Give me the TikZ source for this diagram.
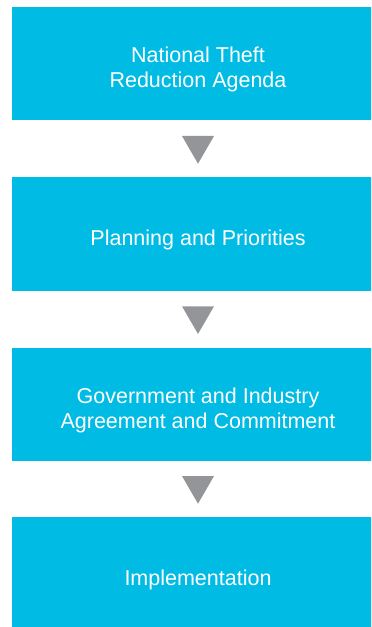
\documentclass[tikz,border=0pt]{standalone}
\usepackage{fontspec}
\setmainfont{Liberation Sans}
\usetikzlibrary{shapes.geometric}
\definecolor{stepBlue}{RGB}{0,188,228}
\definecolor{stepGray}{RGB}{147,149,152}

\begin{document}
\begin{tikzpicture}
[x=1bp,y=-1bp,
  boxDecorate/.style={shape=rectangle,fill=stepBlue,
    minimum width=372bp,minimum height=113bp,inner sep=0pt},
  textDecorate/.style={text=white,align=center,inner sep=0pt,yshift=-6bp},
  pointerDecorate/.style={regular polygon,regular polygon sides=3,
    shape border rotate=180,fill=stepGray,minimum size=37bp,inner sep=0pt,
    yshift=3.5bp}]
\fontsize{21.5bp}{25bp}\selectfont
\useasboundingbox (0,0) rectangle (371,627);
\clip (0,0) rectangle (371,627);
%% boxes
\foreach \nodename/\y/\text in {
  agenda/63.5/{National Theft\\Reduction Agenda},
  planning/234/{Planning and Priorities},
  agreement/404/{Government and Industry\\Agreement and Commitment},
  implementation/573.5/{Implementation}}
{
  \node (\nodename) at (198,\y) [boxDecorate,
    label={[textDecorate]center:{\text}}] {};
}
%% pointers between boxes
\path
\foreach \startnode/\endnode in {
  agenda/planning, planning/agreement, agreement/implementation}
{
  (\startnode) -- (\endnode) node[midway,pointerDecorate] {}
};
\end{tikzpicture}
\end{document}
